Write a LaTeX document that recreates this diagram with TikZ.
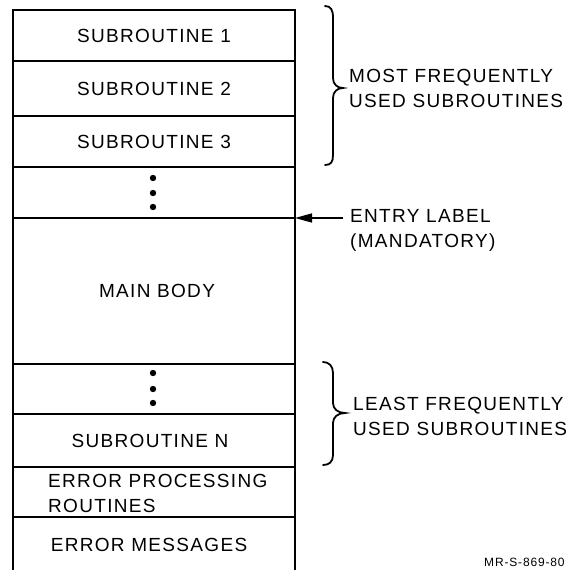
\documentclass[tikz,border=0pt]{standalone}
\usepackage{fontspec}
\setmainfont{Liberation Sans}[LetterSpace=7]
\usetikzlibrary{arrows.meta}

\begin{document}
\begin{tikzpicture}[x=1pt,y=-1pt,
  txt/.style={font=\fontsize{19}{25}\selectfont},
  cell/.style={draw, line width=1.5pt, minimum width=282pt, inner sep=0pt,
               outer sep=0pt, anchor=north, txt},
  frame/.style={line width=2.8pt},
  dotmark/.style={circle, fill, inner sep=0pt, minimum size=6.4pt},
  lbl/.style={txt, inner sep=0pt, anchor=west, align=left},
  brace/.style={line width=1.8pt, line cap=round},
  ptr/.style={line width=1.5pt, -{Triangle[length=17pt,width=9pt]}}]
\useasboundingbox (0,0) rectangle (574,570);

% memory layout, top to bottom
\node[cell, minimum height=51pt]  (sub1)  at (154,10)      {SUBROUTINE 1};
\node[cell, minimum height=55pt]  (sub2)  at (sub1.south)  {SUBROUTINE 2};
\node[cell, minimum height=51pt]  (sub3)  at (sub2.south)  {SUBROUTINE 3};
\node[cell, minimum height=51pt]  (gap1)  at (sub3.south)  {};
\node[cell, minimum height=146pt] (main)  at (gap1.south)  {\hspace*{6pt}MAIN BODY};
\node[cell, minimum height=50pt]  (gap2)  at (main.south)  {};
\node[cell, minimum height=53pt]  (subn)  at (gap2.south)  {\hspace*{-8pt}SUBROUTINE N};
\node[cell, minimum height=50pt]  (errp)  at (subn.south)  {};
\node[cell, minimum height=56pt]  (errm)  at (errp.south)  {\hspace*{-10pt}ERROR MESSAGES};

\node[lbl] (errtxt) at (48,493) {ERROR PROCESSING\\ROUTINES};

% heavier outline of the whole program
\draw[frame] (errm.south west) -- (sub1.north west) -- (sub1.north east) -- (errm.south east);

% ellipsis marks
\node[dotmark] (u1) at (153,178) {};
\node[dotmark] (u2) at (153,193) {};
\node[dotmark] (u3) at (153,207) {};
\node[dotmark] (l1) at (153,373) {};
\node[dotmark] (l2) at (153,389) {};
\node[dotmark] (l3) at (153,403) {};

% most frequently used group
\draw[brace] (325,6) .. controls (331,6) and (333,10) .. (333,18) -- (333,78)
  .. controls (333,84) and (337,88) .. (343,88)
  .. controls (337,88) and (333,92) .. (333,98) -- (333,155)
  .. controls (333,162) and (331,165) .. (325,165);
\node[lbl] (most) at (349,88) {MOST FREQUENTLY\\USED SUBROUTINES};

% entry point
\coordinate (etail) at (343,218);
\draw[ptr] (etail) -- (main.north east);
\node[lbl] (entry) at (350,230) {ENTRY LABEL\\(MANDATORY)};

% least frequently used group
\draw[brace] (323,362) .. controls (329,362) and (333,366) .. (333,373) -- (333,403)
  .. controls (333,409) and (338,413) .. (345,413)
  .. controls (338,413) and (333,417) .. (333,423) -- (333,455)
  .. controls (333,462) and (329,465) .. (323,465);
\node[lbl] (least) at (353,416) {LEAST FREQUENTLY\\USED SUBROUTINES};

\node[font=\fontsize{12}{12}\selectfont, inner sep=0pt, anchor=base west] (mr)
  at (484,566) {MR-S-869-80};
\end{tikzpicture}
\end{document}
